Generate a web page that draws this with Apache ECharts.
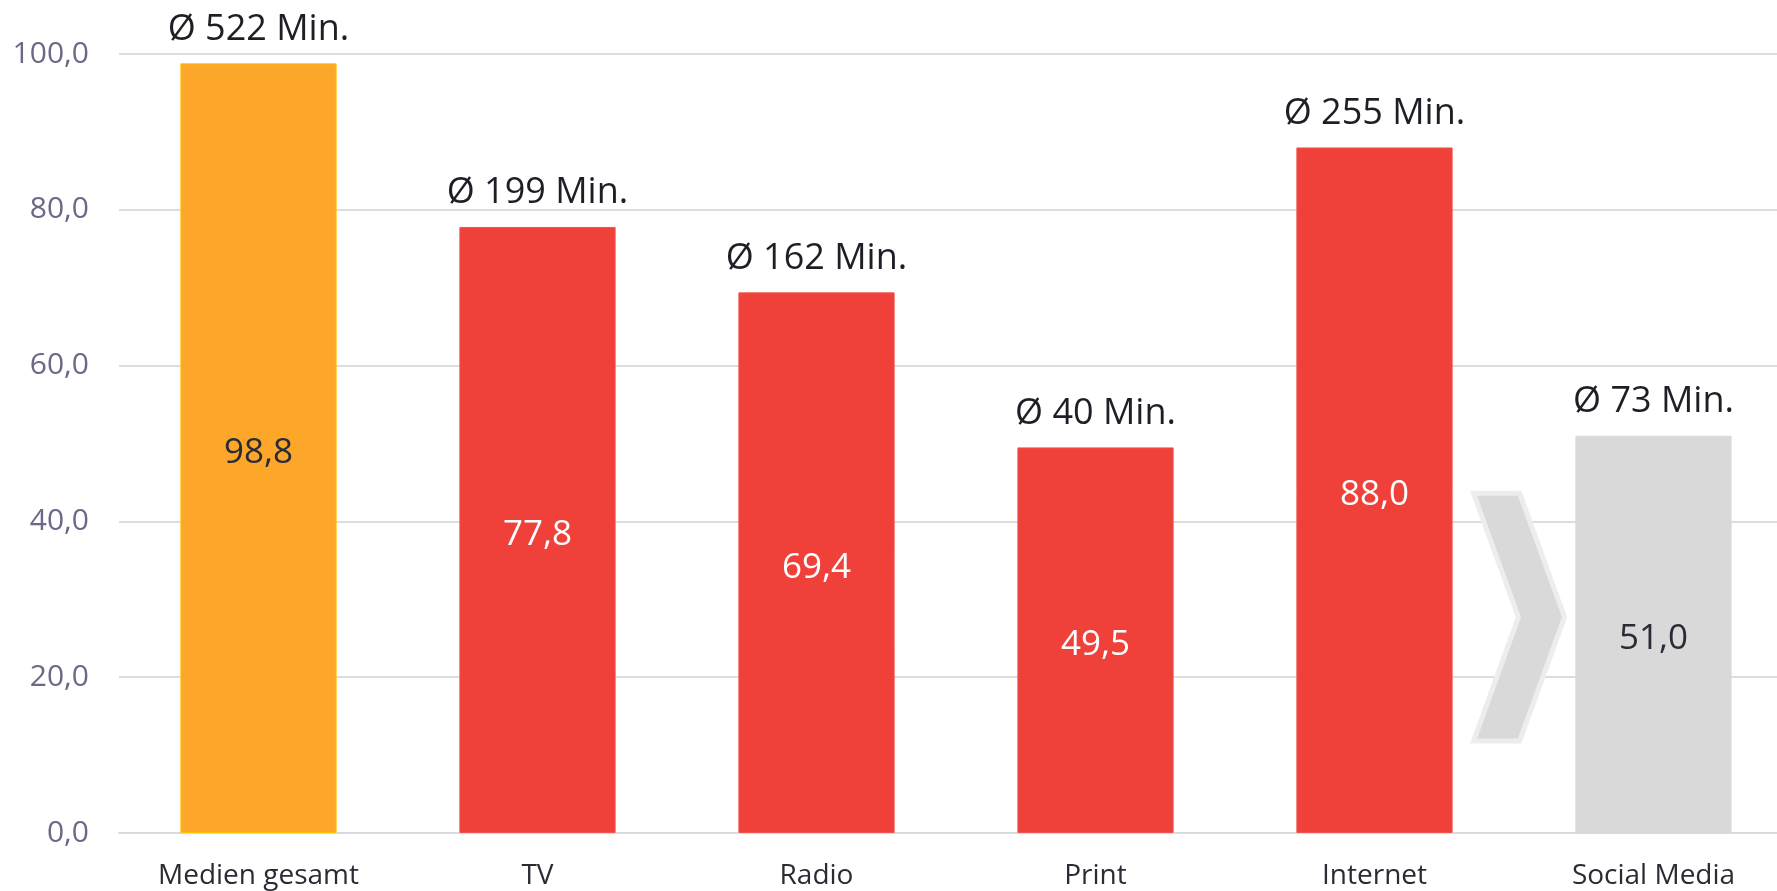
<!DOCTYPE html>
<html>
<head>
<meta charset="utf-8">
<script src="https://cdn.jsdelivr.net/npm/echarts@6/dist/echarts.min.js"></script>
<style>
  html, body { margin: 0; padding: 0; background: #ffffff; }
  #chart { width: 1777px; height: 891px; }
</style>
</head>
<body>
<div id="chart"></div>
<script>
// Tägliche Mediennutzung: Reichweite in % und durchschnittliche Nutzungsdauer
const categories = ['Medien gesamt', 'TV', 'Radio', 'Print', 'Internet', 'Social Media'];
const reach = [98.8, 77.8, 69.4, 49.5, 88.0, 51.0];
const minutes = [522, 199, 162, 40, 255, 73];
const yTicks = [0, 20, 40, 60, 80, 100];

// Styling
const barColors = ['#FCA72A', '#EF4039', '#EF4039', '#EF4039', '#EF4039', '#D9D9D9'];
const barBorders = ['#FFC000', '#F0544C', '#F0544C', '#F0544C', '#F0544C', '#D9D9D9'];
const innerLabelColors = ['#2B2B38', '#FFFFFF', '#FFFFFF', '#FFFFFF', '#FFFFFF', '#2B2B38'];
const FONT = '"Open Sans", "Noto Sans", sans-serif';

const fmt = v => v.toFixed(1).replace('.', ',');

const chart = echarts.init(document.getElementById('chart'), null, { renderer: 'canvas' });

const option = {
  animation: false,
  backgroundColor: '#ffffff',
  grid: { left: 119, top: 54, bottom: 58, right: -16, containLabel: false, outerBoundsMode: 'none' },
  xAxis: {
    type: 'category',
    data: categories,
    axisTick: { show: false },
    axisLine: { lineStyle: { color: '#D9D9E2', width: 2 } },
    axisLabel: { color: '#2B2B36', fontFamily: FONT, fontSize: 28, margin: 29, interval: 0 }
  },
  yAxis: {
    type: 'value',
    min: yTicks[0],
    max: yTicks[yTicks.length - 1],
    interval: yTicks[1] - yTicks[0],
    axisLine: { show: false },
    axisTick: { show: false },
    splitLine: { lineStyle: { color: '#DCDCE4', width: 2 } },
    axisLabel: { color: '#6B6987', fontFamily: FONT, fontSize: 30, margin: 30, formatter: v => fmt(v) }
  },
  series: [
    {
      type: 'bar',
      barWidth: '56%',
      data: reach.map((v, i) => ({
        value: v,
        itemStyle: { color: barColors[i], borderColor: barBorders[i], borderWidth: 1 },
        label: { color: innerLabelColors[i] }
      })),
      label: {
        show: true,
        position: 'inside',
        offset: [0, 5],
        fontFamily: FONT,
        fontSize: 35,
        formatter: p => fmt(p.value)
      },
      z: 2
    },
    {
      // average usage time shown above each bar
      type: 'bar',
      barWidth: '56%',
      barGap: '-100%',
      data: reach,
      itemStyle: { color: 'rgba(0,0,0,0)' },
      label: {
        show: true,
        position: 'top',
        distance: 14,
        lineHeight: 40,
        fontFamily: FONT,
        fontSize: 36,
        color: '#1E1E26',
        formatter: p => 'Ø ' + minutes[p.dataIndex] + ' Min.'
      },
      silent: true,
      z: 3
    }
  ]
};

chart.setOption(option);

// Chevron between "Internet" and "Social Media", placed in axis space
function drawChevron() {
  const from = categories.indexOf('Internet');
  const to = categories.indexOf('Social Media');
  const px = (t, y) => {
    const a = chart.convertToPixel({ xAxisIndex: 0, yAxisIndex: 0 }, [from, y]);
    const b = chart.convertToPixel({ xAxisIndex: 0, yAxisIndex: 0 }, [to, y]);
    return [a[0] + (b[0] - a[0]) * t, a[1]];
  };
  const pts = [
    px(0.355, 43.6), px(0.520, 43.6), px(0.681, 27.7),
    px(0.520, 11.8), px(0.355, 11.8), px(0.516, 27.7)
  ];
  chart.setOption({
    graphic: [{
      type: 'polygon',
      shape: { points: pts },
      style: { fill: '#D9D9D9', stroke: '#EDEDED', lineWidth: 5, lineJoin: 'miter' },
      z: 5
    }]
  });
}
drawChevron();
</script>
</body>
</html>
